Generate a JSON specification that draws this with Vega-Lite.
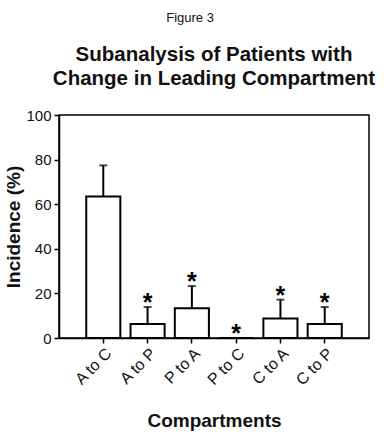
{
  "$schema": "https://vega.github.io/schema/vega-lite/v6.json",
  "background": "white",
  "padding": {"left": 4, "top": 11, "right": 10, "bottom": 2},
  "title": {"text": "Figure 3", "fontSize": 13, "fontWeight": "normal", "font": "Liberation Sans", "color": "#111", "anchor": "middle", "offset": 19},
  "config": {
    "font": "Liberation Sans",
    "view": {"stroke": "black", "strokeWidth": 1.5},
    "axis": {"grid": false, "domainColor": "black", "domainWidth": 1.5, "tickColor": "black", "tickWidth": 1.5, "tickSize": 5, "labelColor": "#111", "titleColor": "#111", "labelFont": "Liberation Sans", "titleFont": "Liberation Sans"}
  },
  "data": {"values": [
    {"comp": "A to C", "value": 63.4, "upper": 77.4, "star": ""},
    {"comp": "A to P", "value": 6.3, "upper": 13.9, "star": "*"},
    {"comp": "P to A", "value": 13.3, "upper": 23.3, "star": "*"},
    {"comp": "P to C", "value": 0, "upper": 0, "star": "*"},
    {"comp": "C to A", "value": 8.7, "upper": 17.2, "star": "*"},
    {"comp": "C to P", "value": 6.3, "upper": 13.9, "star": "*"}
  ]},
  "vconcat": [
    {
      "width": 310,
      "height": 223,
      "title": {"text": ["Subanalysis of Patients with", "Change in Leading Compartment"], "fontSize": 20.5, "fontWeight": "bold", "font": "Liberation Sans", "color": "#111", "anchor": "middle", "lineHeight": 24, "offset": 19},
      "encoding": {
        "x": {"field": "comp", "type": "nominal", "sort": null,
              "scale": {"paddingInner": 0.23, "paddingOuter": 0.615},
              "axis": {"title": "Compartments", "titleFontSize": 19, "titleFontWeight": "bold", "titlePadding": 24, "labelAngle": -45, "labelFontSize": 16, "labelPadding": 2}}
      },
      "layer": [
        {
          "mark": {"type": "bar", "fill": "white", "stroke": "black", "strokeWidth": 2},
          "encoding": {
            "y": {"field": "value", "type": "quantitative", "scale": {"domain": [0, 100], "nice": false},
                  "axis": {"title": "Incidence (%)", "values": [0, 20, 40, 60, 80, 100], "titleFontSize": 19, "titleFontWeight": "bold", "labelFontSize": 15, "labelPadding": 3, "titlePadding": 2}}
          }
        },
        {
          "transform": [{"filter": "datum.upper > datum.value"}],
          "mark": {"type": "rule", "color": "black", "strokeWidth": 2},
          "encoding": {
            "y": {"field": "value", "type": "quantitative"},
            "y2": {"field": "upper"}
          }
        },
        {
          "transform": [{"filter": "datum.upper > datum.value"}],
          "mark": {"type": "tick", "color": "black", "thickness": 2, "size": 8},
          "encoding": {
            "y": {"field": "upper", "type": "quantitative"}
          }
        },
        {
          "mark": {"type": "text", "fontSize": 25, "fontWeight": "bold", "color": "black", "baseline": "alphabetic", "dy": 4},
          "encoding": {
            "y": {"field": "upper", "type": "quantitative"},
            "text": {"field": "star"}
          }
        }
      ]
    }
  ]
}
